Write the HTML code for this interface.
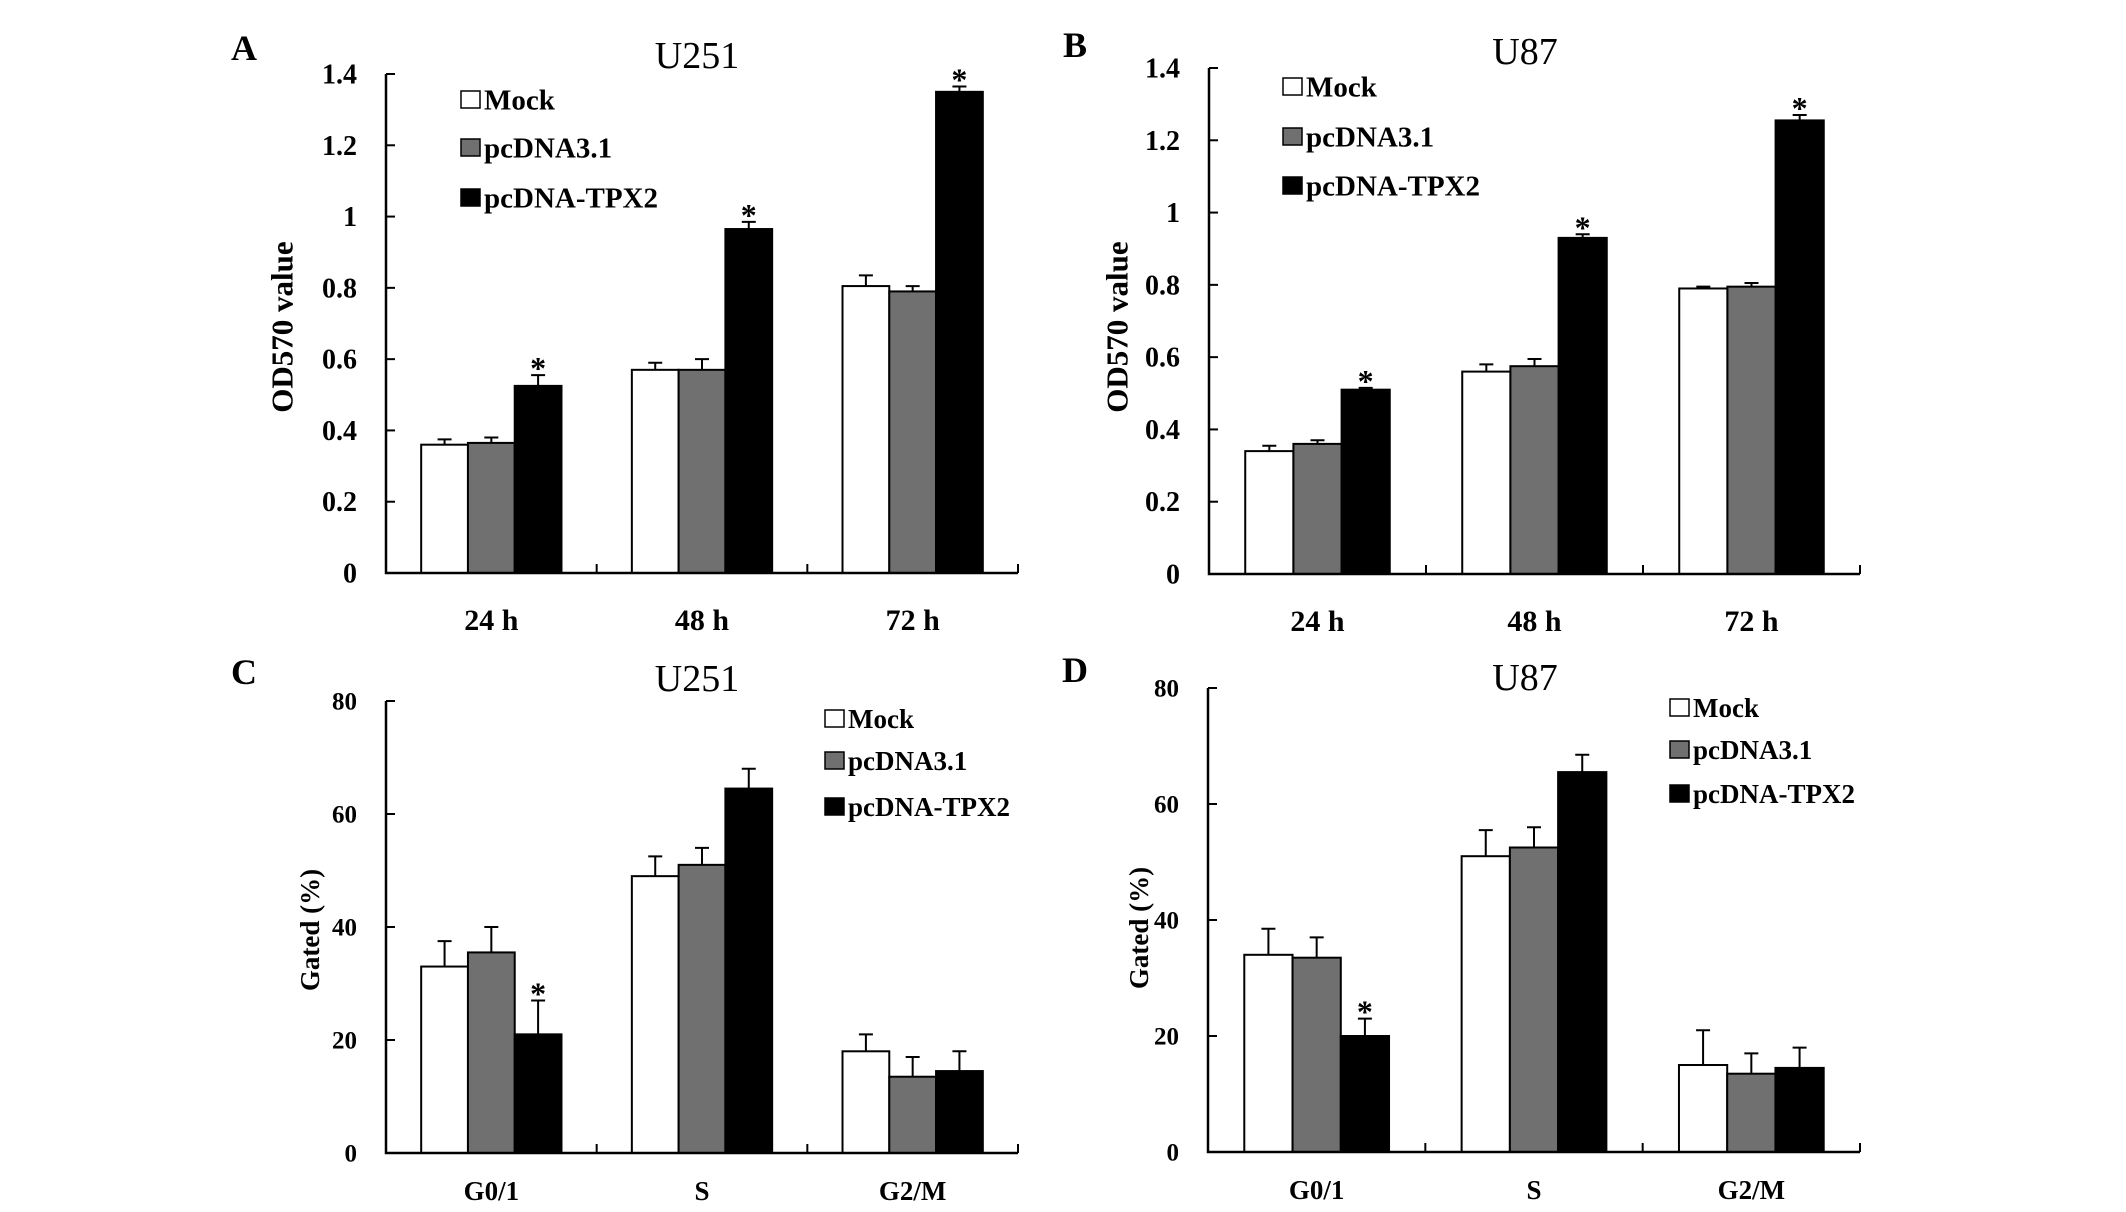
<!DOCTYPE html>
<html><head><meta charset="utf-8"><style>
html,body{margin:0;padding:0;background:#fff}
svg{display:block}
text{font-family:"Liberation Serif",serif}
</style></head><body>
<svg id="fig" width="2126" height="1212" viewBox="0 0 2126 1212" xmlns="http://www.w3.org/2000/svg">
<rect width="2126" height="1212" fill="#fff"/>
</svg>
<script>
const seriesNames = ["Mock","pcDNA3.1","pcDNA-TPX2"];
const seriesFill = ["#ffffff","#707070","#000000"];
const odCategories = ["24 h","48 h","72 h"];
const cycleCategories = ["G0/1","S","G2/M"];
const odTicks = [0,0.2,0.4,0.6,0.8,1,1.2,1.4];
const odTickLabels = ["0","0.2","0.4","0.6","0.8","1","1.2","1.4"];
const cycleTicks = [0,20,40,60,80];
const cycleTickLabels = ["0","20","40","60","80"];

const aMock = [0.36,0.57,0.805];
const aPc = [0.365,0.57,0.79];
const aTpx = [0.525,0.965,1.35];
const aMockErr = [0.015,0.02,0.03];
const aPcErr = [0.015,0.03,0.015];
const aTpxErr = [0.03,0.02,0.015];
const aStar = [false,false,true, false,false,true, false,false,true];

const bMock = [0.34,0.56,0.79];
const bPc = [0.36,0.575,0.795];
const bTpx = [0.51,0.93,1.255];
const bMockErr = [0.015,0.02,0.005];
const bPcErr = [0.01,0.02,0.01];
const bTpxErr = [0.005,0.01,0.015];

const cMock = [33,49,18];
const cPc = [35.5,51,13.5];
const cTpx = [21,64.5,14.5];
const cMockErr = [4.5,3.5,3];
const cPcErr = [4.5,3,3.5];
const cTpxErr = [6,3.5,3.5];

const dMock = [34,51,15];
const dPc = [33.5,52.5,13.5];
const dTpx = [20,65.5,14.5];
const dMockErr = [4.5,4.5,6];
const dPcErr = [3.5,3.5,3.5];
const dTpxErr = [3,3,3.5];

const NS = "http://www.w3.org/2000/svg";
const svg = document.getElementById('fig');
function mk(tag, attrs, parent){
  const e = document.createElementNS(NS, tag);
  for (const k in attrs) e.setAttribute(k, attrs[k]);
  (parent||svg).appendChild(e);
  return e;
}

function panel(cfg){
  const g = mk('g', {});
  
  
  const yScale = v => cfg.y0 - (v/cfg.max)*(cfg.y0-cfg.yt);
  const cw = (cfg.x1-cfg.x0)/cfg.cats.length;
  const bw = cw*0.222;
  const xBar = (ci, si) => cfg.x0 + ci*cw + (cw-3*bw)/2 + si*bw;

  const L = mk('text', {x:cfg.lx, y:cfg.ly, 'font-size':36, 'font-weight':'bold', 'text-anchor':'middle'}, g);
  L.textContent = cfg.id.toUpperCase();
  
  
  const T = mk('text', {x:cfg.tx, y:cfg.ty, 'font-size':38, 'text-anchor':'middle'}, g);
  T.textContent = cfg.title;
  
  

  const vals = [cfg.mock, cfg.pc, cfg.tpx];
  const errs = [cfg.mockErr, cfg.pcErr, cfg.tpxErr];
  for (let ci=0; ci<cfg.cats.length; ci++){
    for (let si=0; si<3; si++){
      const v = vals[si][ci], e = errs[si][ci];
      const x = xBar(ci, si), y = yScale(v);
      const r = mk('rect', {x:x, y:y, width:bw, height:cfg.y0-y, fill:seriesFill[si], stroke:'#000', 'stroke-width':2}, g);
      
      
      const cx = x + bw/2, ye = yScale(v+e);
      const eb = mk('path', {d:`M${cx},${y} V${ye} M${cx-7},${ye} H${cx+7}`, stroke:'#000', 'stroke-width':2, fill:'none'}, g);
      
      
      if (cfg.stars[ci*3+si]){
        const s = mk('text', {x:cx, y:ye+4, 'font-size':32, 'font-weight':'bold', 'text-anchor':'middle'}, g);
        s.textContent = '*';
        
        
      }
    }
  }

  const ax = mk('path', {d:`M${cfg.x0},${cfg.yt} V${cfg.y0} H${cfg.x1}`, stroke:'#000', 'stroke-width':2.5, fill:'none'}, g);
  
  
  for (let i=0; i<cfg.ticks.length; i++){
    const y = yScale(cfg.ticks[i]);
    const t = mk('line', {x1:cfg.x0, x2:cfg.x0+9, y1:y, y2:y, stroke:'#000', 'stroke-width':2}, g);
    
    
    const tl = mk('text', {x:cfg.x0-29, y:y+cfg.tf*0.34, 'font-size':cfg.tf, 'font-weight':'bold', 'text-anchor':'end'}, g);
    tl.textContent = cfg.tickLabels[i];
    
    
  }
  for (let ci=0; ci<=cfg.cats.length; ci++){
    if (ci>0){
      const x = cfg.x0 + ci*cw;
      const t = mk('line', {x1:x, x2:x, y1:cfg.y0, y2:cfg.y0-9, stroke:'#000', 'stroke-width':2}, g);
      
      
    }
    if (ci<cfg.cats.length){
      const cl = mk('text', {x:cfg.x0 + ci*cw + cw/2, y:cfg.y0+cfg.cy, 'font-size':cfg.cf, 'font-weight':'bold', 'text-anchor':'middle'}, g);
      cl.textContent = cfg.cats[ci];
      
      
    }
  }
  const yt = mk('text', {x:0, y:0, 'font-size':cfg.yf, 'font-weight':'bold', 'text-anchor':'middle', transform:`translate(${cfg.ytx+cfg.yf*0.34},${cfg.yty}) rotate(-90)`}, g);
  yt.textContent = cfg.ytitle;
  
  

  for (let si=0; si<3; si++){
    const ry = cfg.legY[si];
    const sq = mk('rect', {x:cfg.legX, y:ry-9, width:19, height:17, fill:seriesFill[si], stroke:'#000', 'stroke-width':1.5}, g);
    
    
    const lt = mk('text', {x:cfg.legX+23, y:ry+cfg.lf*0.33, 'font-size':cfg.lf, 'font-weight':'bold'}, g);
    lt.textContent = seriesNames[si];
    
    
  }
}

panel({id:'a', title:'U251', lx:244, ly:60, tx:697, ty:68,
  x0:386, x1:1018, y0:573, yt:74, max:1.4, ticks:odTicks, tickLabels:odTickLabels, tf:28,
  cats:odCategories, cf:30, cy:57, ytitle:'OD570 value', yf:31, ytx:282, yty:327,
  legX:461, legY:[100,148,198], lf:29,
  mock:aMock, pc:aPc, tpx:aTpx, mockErr:aMockErr, pcErr:aPcErr, tpxErr:aTpxErr, stars:aStar});
panel({id:'b', title:'U87', lx:1075, ly:57, tx:1525, ty:64,
  x0:1209, x1:1860, y0:574, yt:68, max:1.4, ticks:odTicks, tickLabels:odTickLabels, tf:28,
  cats:odCategories, cf:30, cy:57, ytitle:'OD570 value', yf:31, ytx:1117, yty:327,
  legX:1283, legY:[87,137,186], lf:29,
  mock:bMock, pc:bPc, tpx:bTpx, mockErr:bMockErr, pcErr:bPcErr, tpxErr:bTpxErr, stars:aStar});
panel({id:'c', title:'U251', lx:244, ly:684, tx:697, ty:691,
  x0:386, x1:1018, y0:1153, yt:701, max:80, ticks:cycleTicks, tickLabels:cycleTickLabels, tf:25,
  cats:cycleCategories, cf:27, cy:47, ytitle:'Gated  (%)', yf:27, ytx:310, yty:930,
  legX:825, legY:[719,761,807], lf:27,
  mock:cMock, pc:cPc, tpx:cTpx, mockErr:cMockErr, pcErr:cPcErr, tpxErr:cTpxErr,
  stars:[false,false,true,false,false,false,false,false,false]});
panel({id:'d', title:'U87', lx:1075, ly:682, tx:1525, ty:690,
  x0:1208, x1:1860, y0:1152, yt:688, max:80, ticks:cycleTicks, tickLabels:cycleTickLabels, tf:25,
  cats:cycleCategories, cf:27, cy:47, ytitle:'Gated  (%)', yf:27, ytx:1139, yty:928,
  legX:1670, legY:[708,750,794], lf:27,
  mock:dMock, pc:dPc, tpx:dTpx, mockErr:dMockErr, pcErr:dPcErr, tpxErr:dTpxErr,
  stars:[false,false,true,false,false,false,false,false,false]});
</script>
</body></html>
